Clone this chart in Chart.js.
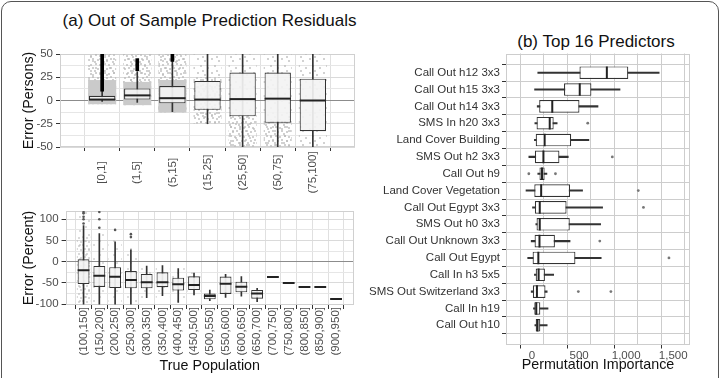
<!DOCTYPE html>
<html><head><meta charset="utf-8">
<script src="https://cdn.jsdelivr.net/npm/chart.js@4.4.0/dist/chart.umd.min.js"></script>
<style>
html,body{margin:0;padding:0;background:#fff;overflow:hidden}
#wrap{position:relative;width:723px;height:378px;overflow:hidden;font-family:"Liberation Sans",Arial,Helvetica,sans-serif}
canvas{position:absolute;left:0;top:0}
.frame{position:absolute;left:1px;top:1px;width:716px;height:430px;border:1.5px solid #555;border-radius:10px}
.title{position:absolute;font-size:17px;line-height:20px;color:#111;white-space:nowrap;transform:translateX(-50%)}
</style></head>
<body><div id="wrap">
<div class="frame"></div>
<div class="title" style="left:209.5px;top:11px">(a) Out of Sample Prediction Residuals</div>
<div class="title" style="left:596px;top:32px">(b) Top 16 Predictors</div>
<canvas id="cA1" width="723" height="378"></canvas>
<canvas id="cA2" width="723" height="378"></canvas>
<canvas id="cB" width="723" height="378"></canvas>
</div>
<script>
// ---------------- DATA ----------------
// (a) top: residuals in persons
const residCats = ['[0,1]','(1,5]','(5,15]','(15,25]','(25,50]','(50,75]','(75,100]'];
const residQ1  = [0, 1, -3, -10, -17, -24, -33];
const residMed = [1, 5.5, 2.5, 1, 1.5, 2, 0];
const residQ3  = [5, 13, 15.5, 21, 30, 30, 23.5];
const residWhiskLo = [-1, -2, -12, -25, -50, -50, -50];
const residWhiskHi = [10, 31, 42, 50, 50, 50, 50];
const residOutLo = [10, 32, 42, null, null, null, null];
const residOutHi = [50, 45, 50, null, null, null, null];
const residDenseLo = [-4, -5, -13, null, null, null, null];
const residDenseHi = [22, 20, 22, null, null, null, null];
const residMidLo = [-4, -5, -13, -25, -50, -50, null];
const residMidHi = [50, 50, 50, 25, -15, -20, null];
const residSparseLo = [-4, -5, -13, -25, -50, -50, -50];
const residSparseHi = [50, 50, 50, 50, 50, 50, 50];
const residYTicks = [-50, -25, 0, 25, 50];
const residYMinor = [-37.5, -12.5, 12.5, 37.5];

// (a) bottom: residuals in percent
const pctCats = ['(100,150]','(150,200]','(200,250]','(250,300]','(300,350]','(350,400]','(400,450]','(450,500]','(500,550]','(550,600]','(600,650]','(650,700]','(700,750]','(750,800]','(800,850]','(850,900]','(900,950]'];
const pctQ1  = [-52.5, -59.5, -62, -62.7, -62.7, -60, -68, -66.6, -88.5, -76, -72, -87, null, null, null, null, null];
const pctMed = [-20.3, -33, -35.3, -43, -48.5, -48.5, -53, -55, -81, -51.8, -58.8, -75, -36, -50, -59.5, -59.5, -87.8];
const pctQ3  = [5.6, -10, -13, -22, -29, -25, -37.6, -34.5, -75, -35, -47, -66.6, null, null, null, null, null];
const pctWhiskLo = [-100, -100, -100, -100, -85, -80, -96, -78, -92, -84, -81, -94, null, null, null, null, null];
const pctWhiskHi = [85, 66, 47, 28, -10, -9, -16, -27, -67, -30, -35, -63, null, null, null, null, null];
const pctOutliers = [[90, 100, 106, 114, 117], [80, 100, 117], [75], [58, 65], [], [], [], [], [], [], [], [], [], [], [], [], []];
const pctMidLo = [-100, null, null, null, null, null, null, null, null, null, null, null, null, null, null, null, null];
const pctMidHi = [60, null, null, null, null, null, null, null, null, null, null, null, null, null, null, null, null];
const pctSparseLo = [-100, -100, -100, -100, -90, -85, -95, -80, null, null, null, null, null, null, null, null, null];
const pctSparseHi = [117, 70, 55, 35, -10, -10, -15, -25, null, null, null, null, null, null, null, null, null];
const pctYTicks = [-100, -50, 0, 50, 100];
const pctYMinor = [-75, -25, 25, 75];

// (b) permutation importance
const predictors = ['Call Out h12 3x3','Call Out h15 3x3','Call Out h14 3x3','SMS In h20 3x3','Land Cover Building','SMS Out h2 3x3','Call Out h9','Land Cover Vegetation','Call Out Egypt 3x3','SMS Out h0 3x3','Call Out Unknown 3x3','Call Out Egypt','Call In h3 5x5','SMS Out Switzerland 3x3','Call In h19','Call Out h10'];
const impQ1  = [504, 340, 76, 48, 39, 30, 79, 24, 30, 48, 27, 6, 39, 9, 24, 39];
const impMed = [795, 507, 215, 188, 134, 121, 106, 97, 82, 82, 79, 67, 70, 52, 45, 58];
const impQ3  = [1023, 631, 504, 230, 416, 291, 134, 404, 367, 401, 243, 461, 137, 143, 88, 88];
const impWhiskLo = [61, 27, 55, 30, 25, -34, 61, -64, 5, 40, -9, -46, 25, -9, 15, 30];
const impWhiskHi = [1351, 935, 701, 267, 604, 385, 158, 537, 750, 729, 404, 735, 230, 161, 170, 161];
const impOutliers = [[], [], [], [592], [], [853], [-34, 249], [1129], [1184], [], [720], [1455], [], [492, 838], [], []];
const impXTicks = [0, 500, 1000, 1500];
const impXMinor = [250, 750, 1250];

// ---------------- HELPERS ----------------
const FONT = '"Liberation Sans", Arial, Helvetica, sans-serif';
Chart.defaults.font.family = FONT;
Chart.defaults.color = '#4d4d4d';

function ranges(lo, hi, horiz) {
  const out = [];
  lo.forEach((l, i) => {
    const h = hi[i];
    if (l == null || h == null) return;
    out.push(horiz ? {y: i + 1, x: [l, h]} : {x: i + 1, y: [l, h]});
  });
  return out;
}
function points(vals, horiz) {
  const out = [];
  vals.forEach((v, i) => { if (v != null) out.push(horiz ? {y: i + 1, x: v} : {x: i + 1, y: v}); });
  return out;
}
function pointLists(lists, horiz) {
  const out = [];
  lists.forEach((arr, i) => arr.forEach(v => out.push(horiz ? {y: i + 1, x: v} : {x: i + 1, y: v})));
  return out;
}
const halfBox = axis => ctx => {
  const s = ctx.chart.scales[axis];
  return Math.abs(s.getPixelForValue(2) - s.getPixelForValue(1)) * 0.375;
};
function makePattern(size, dots, color, r) {
  const c = document.createElement('canvas');
  c.width = c.height = size;
  const g = c.getContext('2d');
  g.fillStyle = color;
  dots.forEach(([x, y]) => { g.beginPath(); g.arc(x, y, r, 0, Math.PI * 2); g.fill(); });
  return g.createPattern(c, 'repeat');
}
const sparseA = makePattern(14, [[2,3],[9,5],[5,10],[12,12],[7,1]], 'rgba(185,185,185,0.85)', 1);
const midA = makePattern(9, [[1,2],[6,1],[3,5],[8,6],[5,8]], 'rgba(185,185,185,0.9)', 1);
const sparseB = makePattern(14, [[2,3],[10,7],[5,11]], 'rgba(190,190,190,0.7)', 1);
const midB = makePattern(8, [[1,2],[5,1],[3,5],[7,6]], 'rgba(190,190,190,0.75)', 1);

function borderPlugin(color) {
  return { id: 'panelBorder', beforeDatasetsDraw(chart) {
    const {ctx, chartArea: a} = chart;
    ctx.save(); ctx.strokeStyle = color; ctx.lineWidth = 1;
    ctx.strokeRect(Math.round(a.left) + 0.5, Math.round(a.top) + 0.5, Math.round(a.right - a.left) - 1, Math.round(a.bottom - a.top) - 1);
    ctx.restore();
  }};
}
const tickSet = (major, minor) => s => {
  s.ticks = major.concat(minor).sort((a, b) => a - b).map(v => ({value: v}));
};
const base = { responsive: false, animation: false, events: [],
  plugins: { legend: {display: false}, tooltip: {enabled: false}, title: {display: false} } };
const barDefaults = { grouped: false, categoryPercentage: 1, borderSkipped: false };

// ---------------- (a) top ----------------
new Chart(document.getElementById('cA1'), {
  type: 'bar',
  data: { datasets: [
    { type: 'scatter', order: 0, data: points(residMed), pointStyle: 'line', pointRadius: halfBox('x'), borderColor: '#222', borderWidth: 2 },
    { ...barDefaults, order: 1, data: ranges(residQ1, residQ3), backgroundColor: 'rgba(243,243,243,0.92)', borderColor: '#333', borderWidth: 1.1, barPercentage: 0.75 },
    { ...barDefaults, order: 2, data: ranges(residOutLo, residOutHi), backgroundColor: '#000', barThickness: 3 },
    { ...barDefaults, order: 3, data: ranges(residWhiskLo, residWhiskHi), backgroundColor: '#333', barThickness: 1 },
    { ...barDefaults, order: 4, data: ranges(residDenseLo, residDenseHi), backgroundColor: '#cacaca', barPercentage: 0.8 },
    { ...barDefaults, order: 5, data: ranges(residMidLo, residMidHi), backgroundColor: midA, barPercentage: 0.8 },
    { ...barDefaults, order: 6, data: ranges(residSparseLo, residSparseHi), backgroundColor: sparseA, barPercentage: 0.8 }
  ]},
  options: { ...base,
    layout: { padding: { left: 20, right: 723 - 355, top: 54, bottom: 378 - 147 - 40 } },
    scales: {
      x: { type: 'linear', min: 0.4, max: 7.6,
        afterBuildTicks: s => { s.ticks = residCats.map((c, i) => ({value: i + 1})); },
        afterFit: s => { s.height = 40; },
        ticks: { display: false },
        grid: { color: '#e0e0e0', tickColor: '#333', tickLength: 4 }, border: { display: false } },
      y: { min: -50, max: 50, afterBuildTicks: tickSet(residYTicks, residYMinor),
        afterFit: s => { s.width = 40; },
        ticks: { autoSkip: false, padding: 3, font: {size: 11.5}, color: '#4d4d4d',
          callback: v => residYTicks.includes(v) ? String(v) : '' },
        grid: { tickLength: 4,
          color: c => c.tick && c.tick.value === 0 ? '#8c8c8c' : (c.tick && residYTicks.includes(c.tick.value) ? '#dadada' : '#e6e6e6'),
          tickColor: c => c.tick && residYTicks.includes(c.tick.value) ? '#333' : 'rgba(0,0,0,0)' },
        border: { display: false },
        title: { display: true, text: 'Error (Persons)', color: '#111', font: {size: 14.3}, padding: {top: 0, bottom: 0} } }
    }
  },
  plugins: [borderPlugin('#d0d0d0'), { id: 'centeredX', afterDraw(chart) {
    const ctx = chart.ctx, xs = chart.scales.x;
    ctx.save(); ctx.font = '11.5px ' + FONT; ctx.fillStyle = '#4d4d4d';
    ctx.textAlign = 'center'; ctx.textBaseline = 'middle';
    residCats.forEach((lab, i) => {
      ctx.save(); ctx.translate(xs.getPixelForValue(i + 1), 172.5); ctx.rotate(-Math.PI / 2);
      ctx.fillText(lab, 0, 0); ctx.restore();
    });
    ctx.restore();
  }}]
});

// ---------------- (a) bottom ----------------
new Chart(document.getElementById('cA2'), {
  type: 'bar',
  data: { datasets: [
    { type: 'scatter', order: 0, data: points(pctMed), pointStyle: 'line', pointRadius: halfBox('x'), borderColor: '#222', borderWidth: 2 },
    { type: 'scatter', order: 1, data: pointLists(pctOutliers), pointStyle: 'circle', pointRadius: 1.3, backgroundColor: '#555', borderWidth: 0 },
    { ...barDefaults, order: 2, data: ranges(pctQ1, pctQ3), backgroundColor: 'rgba(243,243,243,0.92)', borderColor: '#333', borderWidth: 1.1, barPercentage: 0.75 },
    { ...barDefaults, order: 3, data: ranges(pctWhiskLo, pctWhiskHi), backgroundColor: '#333', barThickness: 1 },
    { ...barDefaults, order: 4, data: ranges(pctMidLo, pctMidHi), backgroundColor: midB, barPercentage: 0.85 },
    { ...barDefaults, order: 5, data: ranges(pctSparseLo, pctSparseHi), backgroundColor: sparseB, barPercentage: 0.85 }
  ]},
  options: { ...base,
    layout: { padding: { left: 20, right: 723 - 354, top: 211, bottom: 0 } },
    scales: {
      x: { type: 'linear', min: 0.4, max: 17.6,
        afterBuildTicks: s => { s.ticks = pctCats.map((c, i) => ({value: i + 1})); },
        afterFit: s => { s.height = 378 - 305; },
        ticks: { autoSkip: false, minRotation: 90, maxRotation: 90, padding: -2, font: {size: 11.5}, color: '#4d4d4d',
          callback: v => pctCats[v - 1] },
        grid: { color: '#e0e0e0', tickColor: '#333', tickLength: 4 }, border: { display: false },
        title: { display: true, text: 'True Population', color: '#111', font: {size: 14.3}, padding: {top: 0, bottom: 3} } },
      y: { min: -102, max: 119.5, afterBuildTicks: tickSet(pctYTicks, pctYMinor),
        afterFit: s => { s.width = 45.6; },
        ticks: { autoSkip: false, padding: 3, font: {size: 11.5}, color: '#4d4d4d',
          callback: v => pctYTicks.includes(v) ? String(v) : '' },
        grid: { tickLength: 4,
          color: c => c.tick && c.tick.value === 0 ? '#8c8c8c' : (c.tick && pctYTicks.includes(c.tick.value) ? '#dadada' : '#e6e6e6'),
          tickColor: c => c.tick && pctYTicks.includes(c.tick.value) ? '#333' : 'rgba(0,0,0,0)' },
        border: { display: false },
        title: { display: true, text: 'Error (Percent)', color: '#111', font: {size: 14.3}, padding: {top: 0, bottom: 0} } }
    }
  },
  plugins: [borderPlugin('#d0d0d0')]
});

// ---------------- (b) ----------------
new Chart(document.getElementById('cB'), {
  type: 'bar',
  data: { datasets: [
    { type: 'scatter', order: 0, data: points(impMed, true), pointStyle: 'line', pointRotation: 90, pointRadius: halfBox('y'), borderColor: '#222', borderWidth: 2 },
    { type: 'scatter', order: 1, data: pointLists(impOutliers, true), pointStyle: 'circle', pointRadius: 1.4, backgroundColor: '#777', borderWidth: 0 },
    { ...barDefaults, indexAxis: 'y', order: 2, data: ranges(impQ1, impQ3, true), backgroundColor: '#ffffff', borderColor: '#333', borderWidth: 1.2, barPercentage: 0.75 },
    { ...barDefaults, indexAxis: 'y', order: 3, data: ranges(impWhiskLo, impWhiskHi, true), backgroundColor: '#333', barThickness: 1.4 }
  ]},
  options: { ...base,
    layout: { padding: { left: 360, right: 723 - 690, top: 53.5, bottom: 0 } },
    scales: {
      x: { type: 'linear', min: -137, max: 1539, afterBuildTicks: tickSet(impXTicks, impXMinor),
        afterFit: s => { s.height = 378 - 344.5; },
        ticks: { autoSkip: false, maxRotation: 0, padding: 0, font: {size: 11.5}, color: '#4d4d4d',
          callback: v => impXTicks.includes(v) ? v.toLocaleString('en-US') : '' },
        grid: { tickLength: 4, color: '#cdcdcd',
          tickColor: c => c.tick && impXTicks.includes(c.tick.value) ? '#333' : 'rgba(0,0,0,0)' },
        border: { display: false },
        title: { display: true, text: 'Permutation Importance', color: '#111', font: {size: 14.3}, padding: {top: 0, bottom: 4} } },
      y: { type: 'linear', reverse: true, min: 0.4, max: 16.6,
        afterBuildTicks: s => { s.ticks = predictors.map((p, i) => ({value: i + 1})); },
        afterFit: s => { s.width = 146; },
        ticks: { autoSkip: false, padding: 2, font: {size: 11.5}, color: '#333', callback: v => predictors[v - 1] },
        grid: { tickLength: 4, color: '#cdcdcd', tickColor: '#333' }, border: { display: false } }
    }
  },
  plugins: [borderPlugin('#cdcdcd')]
});
</script>
</body></html>
